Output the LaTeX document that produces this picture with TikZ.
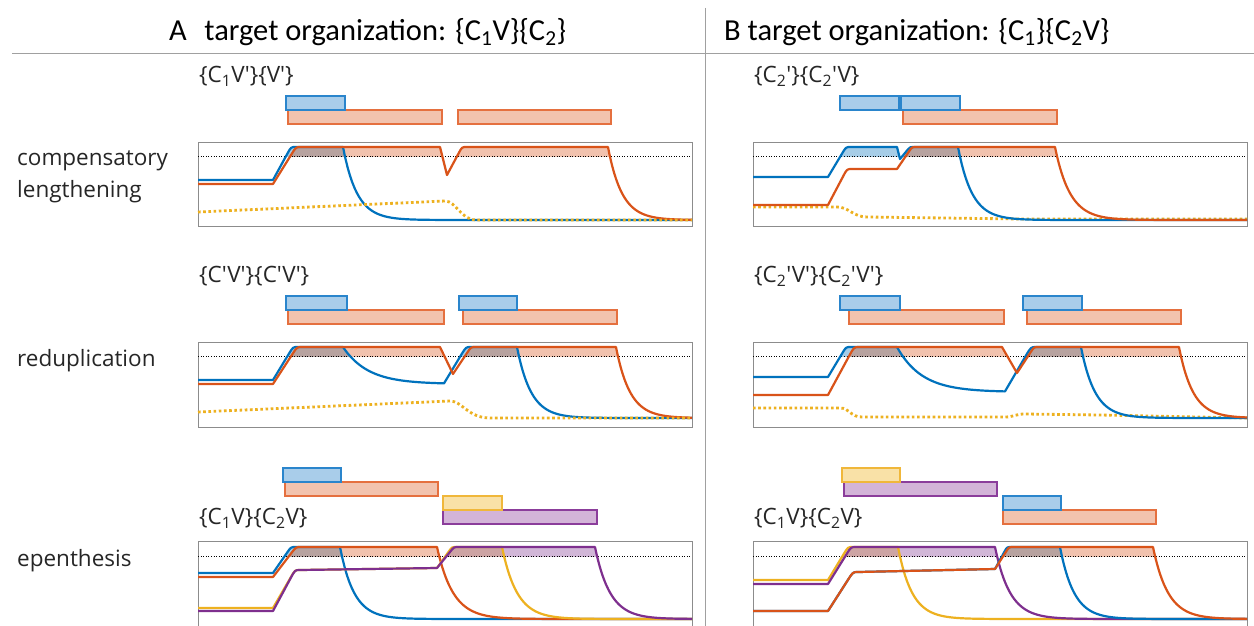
\documentclass[tikz,border=0pt]{standalone}
\usepackage{fontspec}
\setmainfont{Open Sans}[Ligatures=TeXOff]
\newfontfamily\hdfont{Carlito}[Ligatures=TeXOff]
\definecolor{mblue}{HTML}{0072BD}
\definecolor{morange}{HTML}{D95319}
\definecolor{myellow}{HTML}{EDB120}
\definecolor{mpurple}{HTML}{7E2F8E}
\definecolor{bfill}{HTML}{A9CDEA}
\definecolor{bbord}{HTML}{2A85CC}
\definecolor{ofill}{HTML}{F2C3AE}
\definecolor{obord}{HTML}{E5703F}
\definecolor{yfill}{HTML}{F9E1A7}
\definecolor{ybord}{HTML}{F0B73A}
\definecolor{pfill}{HTML}{D3B4D8}
\definecolor{pbord}{HTML}{8B3D9B}
\definecolor{framegray}{HTML}{8C8C8C}
\definecolor{txtgray}{HTML}{262626}
\definecolor{rulegray}{HTML}{A0A0A0}
% rise from (#1,#2) to plateau (#3,#4) with rounded top
\newcommand\up[4]{-- ({#1+0.8*(#3-#1)},{#2+0.8*(#4-#2)}) .. controls (#3,#4) .. ({#3+5},#4)}
% exponential decay from x=#1 to #2, level #3 towards #4, constant #5
\newcommand\dec[5]{-- plot[domain=#1:#2,samples=150] (\x,{#4-(#4-#3)*exp(-(\x-#1)/#5)})}
% fill area of curve above threshold (semi-transparent)
\newcommand\fillabove[6]{\begin{scope}\clip (#3,#5) rectangle (#4,#6);
  \fill[#2, fill opacity=0.35] #1 -- (#4,700) -- (#3,700) -- cycle;\end{scope}}
% ---- curves ----
% A1
\newcommand\cAAb{(198,180) -- (273,180) \up{273}{180}{291}{147} -- (343,147) \dec{343}{692}{147}{220}{14}}
\newcommand\cAAo{(198,184) -- (273,184) \up{273}{184}{296}{147} -- (440,147) -- (447,175) \up{447}{175}{462}{147} -- (608,147) \dec{608}{692}{147}{220}{14}}
% B1
\newcommand\cBAb{(753,177) -- (828,177) \up{828}{177}{846}{147} -- (897,147) -- (900,159) \up{900}{159}{910}{147} -- (958,147) \dec{958}{1247}{147}{220}{14}}
\newcommand\cBAo{(753,205) -- (828,205) \up{828}{205}{847}{169} -- (897,169) \up{897}{169}{912}{147} -- (1055,147) \dec{1055}{1247}{147}{220}{15}}
% A2
\newcommand\cABb{(198,380) -- (273,380) \up{273}{380}{293}{347} -- (343,347) \dec{343}{444}{347}{384}{25} \up{444}{383}{466}{347} -- (517,347) \dec{517}{692}{347}{418}{14}}
\newcommand\cABo{(198,384) -- (273,384) \up{273}{384}{297}{347} -- (440,347) -- (453,374) \up{453}{374}{471}{347} -- (616,347) \dec{616}{692}{347}{418}{14}}
% B2
\newcommand\cBBb{(753,377) -- (828,377) \up{828}{377}{846}{347} -- (897,347) \dec{897}{1005}{347}{392}{25} \up{1005}{391}{1031}{347} -- (1081,347) \dec{1081}{1247}{347}{418}{14}}
\newcommand\cBBo{(753,395) -- (828,395) \up{828}{395}{854}{347} -- (1002,347) -- (1017,373) \up{1017}{373}{1034}{347} -- (1179,347) \dec{1179}{1247}{347}{418}{14}}
% A3
\newcommand\cACb{(198,573) -- (273,573) \up{273}{573}{291}{547} -- (340,547) \dec{340}{692}{547}{619}{14}}
\newcommand\cACo{(198,577) -- (273,577) \up{273}{577}{296}{547} -- (437,547) \dec{437}{692}{547}{619}{16}}
\newcommand\cACy{(198,608) -- (273,608) \up{273}{608}{295}{570} -- (437,568) \up{437}{568}{452}{547} -- (502,547) \dec{502}{692}{547}{619}{15}}
\newcommand\cACp{(198,611) -- (273,611) \up{273}{611}{295}{570} -- (437,568) \up{437}{568}{454}{547} -- (595,547) \dec{595}{692}{547}{619}{15}}
% B3
\newcommand\cBCy{(753,580) -- (828,580) \up{828}{580}{848}{547} -- (898,547) \dec{898}{1247}{547}{619}{14}}
\newcommand\cBCp{(753,584) -- (828,584) \up{828}{584}{851}{547} -- (995,547) \dec{995}{1247}{547}{619}{15}}
\newcommand\cBCb{(753,611) -- (828,611) \up{828}{611}{853}{572} -- (995,569) \up{995}{569}{1007}{547} -- (1060,547) \dec{1060}{1247}{547}{619}{14}}
\newcommand\cBCo{(753,611) -- (828,611) \up{828}{611}{853}{572} -- (995,569) \up{995}{569}{1009}{547} -- (1153,547) \dec{1153}{1247}{547}{619}{15}}
\begin{document}
\begin{tikzpicture}[x=1pt,y=-1pt,
  curve/.style={line width=2.2pt,line join=round},
  frm/.style={draw=framegray,line width=1pt},
  thr/.style={black,line width=0.8pt,dash pattern=on 1pt off 1.6pt},
  ydot/.style={myellow,line width=2.8pt,dash pattern=on 2.6pt off 2.6pt},
  bbox/.style={fill=bfill,draw=bbord,line width=1.2pt},
  obox/.style={fill=ofill,draw=obord,line width=1.2pt},
  ybox/.style={fill=yfill,draw=ybord,line width=1.2pt},
  pbox/.style={fill=pfill,draw=pbord,line width=1.2pt},
  lbl/.style={anchor=west,inner sep=0pt,text=txtgray,font=\fontsize{22.5}{32}\selectfont},
  hdr/.style={anchor=west,inner sep=0pt,text=black,font=\hdfont\fontsize{30.5}{33}\selectfont}]
\useasboundingbox (0,0) rectangle (1254,626);
\fill[white] (0,0) rectangle (1254,626);
% header
\draw[rulegray,line width=1pt] (12,54) -- (1254,54);
\draw[rulegray,line width=1pt] (705,8) -- (705,626);
\node[hdr] (titleA) at (169,32) {A\hspace{0.35em} target organization: \{C\textsubscript{1}V\}\{C\textsubscript{2}\}};
\node[hdr] (titleB) at (724,32) {B target organization: \{C\textsubscript{1}\}\{C\textsubscript{2}V\}};
% row labels
\node[lbl,align=left] (rowA) at (17,177) {compensatory\\lengthening};
\node[lbl] (rowB) at (17,361) {reduplication};
\node[lbl] (rowC) at (17,561) {epenthesis};
% panel labels
\node[lbl] (labAA) at (199,76) {\{C\textsubscript{1}V'\}\{V'\}};
\node[lbl] (labBA) at (754,76) {\{C\textsubscript{2}'\}\{C\textsubscript{2}'V\}};
\node[lbl] (labAB) at (199,276) {\{C'V'\}\{C'V'\}};
\node[lbl] (labBB) at (754,276) {\{C\textsubscript{2}'V'\}\{C\textsubscript{2}'V'\}};
\node[lbl] (labAC) at (199,518) {\{C\textsubscript{1}V\}\{C\textsubscript{2}V\}};
\node[lbl] (labBC) at (754,518) {\{C\textsubscript{1}V\}\{C\textsubscript{2}V\}};
% ---- gestural boxes ----
\draw[obox] (288,110) rectangle (442,124);
\draw[obox] (458,110) rectangle (611,124);
\draw[bbox] (286,96) rectangle (345,110);
\draw[obox] (903,110) rectangle (1057,124);
\draw[bbox] (840,96) rectangle (899,110);
\draw[bbox] (901,96) rectangle (960,110);
\draw[obox] (288,310) rectangle (444,324);
\draw[obox] (463,310) rectangle (617,324);
\draw[bbox] (286,296) rectangle (347,310);
\draw[bbox] (459,296) rectangle (517,310);
\draw[obox] (849,310) rectangle (1004,324);
\draw[obox] (1027,310) rectangle (1181,324);
\draw[bbox] (840,296) rectangle (900,310);
\draw[bbox] (1023,296) rectangle (1082,310);
\draw[obox] (285,482) rectangle (438,496);
\draw[bbox] (283,468) rectangle (341,482);
\draw[pbox] (443,510) rectangle (597,524);
\draw[ybox] (443,496) rectangle (502,510);
\draw[pbox] (844,482) rectangle (997,496);
\draw[ybox] (842,468) rectangle (900,482);
\draw[obox] (1003,510) rectangle (1156,524);
\draw[bbox] (1003,496) rectangle (1061,510);
% ---- A1 ----
\fillabove{\cAAb}{mblue}{198}{692}{142}{156}
\fillabove{\cAAo}{morange}{198}{692}{142}{156}
\draw[frm] (198,142) rectangle (692,226);
\draw[thr] (198,156) -- (692,156);
\draw[curve,mblue] \cAAb;
\draw[curve,morange] \cAAo;
\draw[ydot] (198,212) -- (445,201) .. controls (456,201) and (461,220) .. (476,220) -- (692,220);
% ---- B1 ----
\fillabove{\cBAb}{mblue}{753}{1247}{142}{156}
\fillabove{\cBAo}{morange}{753}{1247}{142}{156}
\draw[frm] (753,142) rectangle (1247,226);
\draw[thr] (753,156) -- (1247,156);
\draw[ydot] (753,207) -- (837,207) .. controls (849,207) and (853,217) .. (867,217) -- (1020,219) -- (1247,219);
\draw[curve,mblue] \cBAb;
\draw[curve,morange] \cBAo;
% ---- A2 ----
\fillabove{\cABb}{mblue}{198}{692}{342}{356}
\fillabove{\cABo}{morange}{198}{692}{342}{356}
\draw[frm] (198,342) rectangle (692,427);
\draw[thr] (198,356) -- (692,356);
\draw[curve,mblue] \cABb;
\draw[curve,morange] \cABo;
\draw[ydot] (198,412) -- (450,401) .. controls (462,401) and (468,418) .. (490,418) -- (692,418);
% ---- B2 ----
\fillabove{\cBBb}{mblue}{753}{1247}{342}{356}
\fillabove{\cBBo}{morange}{753}{1247}{342}{356}
\draw[frm] (753,342) rectangle (1247,427);
\draw[thr] (753,356) -- (1247,356);
\draw[ydot] (753,408) -- (840,408) .. controls (850,408) and (850,417) .. (862,417) -- (1005,417) .. controls (1014,417) and (1015,414) .. (1025,414) -- (1100,415) -- (1247,418);
\draw[curve,mblue] \cBBb;
\draw[curve,morange] \cBBo;
% ---- A3 ----
\fillabove{\cACb}{mblue}{198}{692}{541}{556}
\fillabove{\cACo}{morange}{198}{692}{541}{556}
\fillabove{\cACy}{myellow}{198}{692}{541}{556}
\fillabove{\cACp}{mpurple}{198}{692}{541}{556}
\draw[frm] (198,541) rectangle (692,640);
\draw[thr] (198,556) -- (692,556);
\draw[curve,mblue] \cACb;
\draw[curve,morange] \cACo;
\draw[curve,myellow] \cACy;
\draw[curve,mpurple] \cACp;
% ---- B3 ----
\fillabove{\cBCy}{myellow}{753}{1247}{541}{556}
\fillabove{\cBCp}{mpurple}{753}{1247}{541}{556}
\fillabove{\cBCb}{mblue}{753}{1247}{541}{556}
\fillabove{\cBCo}{morange}{753}{1247}{541}{556}
\draw[frm] (753,541) rectangle (1247,640);
\draw[thr] (753,556) -- (1247,556);
\draw[curve,myellow] \cBCy;
\draw[curve,mpurple] \cBCp;
\draw[curve,mblue] \cBCb;
\draw[curve,morange] \cBCo;
\end{tikzpicture}
\end{document}
